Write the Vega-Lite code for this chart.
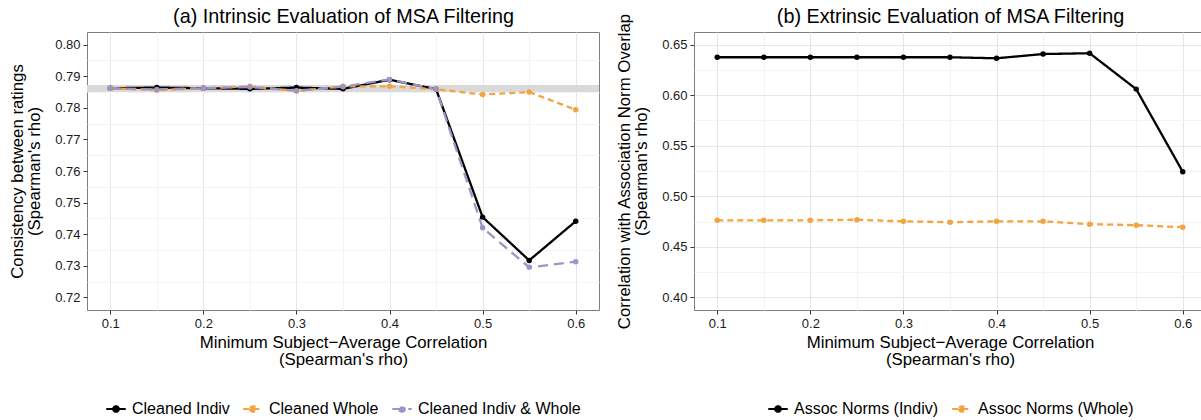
{
  "$schema": "https://vega.github.io/schema/vega-lite/v6.json",
  "padding": {"left": 9, "top": 5, "right": 0, "bottom": 0},
  "background": "white",
  "config": {
    "font": "Liberation Sans",
    "view": {"stroke": "#7f7f7f", "strokeWidth": 1},
    "axis": {
      "labelFontSize": 13, "labelColor": "#1a1a1a", "labelFlush": false, "labelPadding": 3,
      "titleFontSize": 16.8, "titleFontWeight": "normal", "titleColor": "#000000",
      "tickColor": "#333333", "tickSize": 4, "domain": false,
      "gridColor": "#e6e6e6", "gridWidth": 1
    },
    "legend": {
      "orient": "bottom", "direction": "horizontal",
      "labelFontSize": 16, "labelColor": "#000000", "labelLimit": 400,
      "symbolType": "M-1,0L1,0M-0.28,0A0.28,0.28,0,1,0,0.28,0A0.28,0.28,0,1,0,-0.28,0Z",
      "symbolSize": 380, "symbolStrokeWidth": 2.2,
      "columnPadding": 8, "labelOffset": 5, "offset": 30,
      "layout": {"bottom": {"anchor": "middle"}}
    }
  },
  "datasets": {
    "a": [
      {"threshold": 0.1, "rho": 0.7862, "series": "Cleaned Indiv"},
      {"threshold": 0.15, "rho": 0.7864, "series": "Cleaned Indiv"},
      {"threshold": 0.2, "rho": 0.7862, "series": "Cleaned Indiv"},
      {"threshold": 0.25, "rho": 0.7860, "series": "Cleaned Indiv"},
      {"threshold": 0.3, "rho": 0.7864, "series": "Cleaned Indiv"},
      {"threshold": 0.35, "rho": 0.7860, "series": "Cleaned Indiv"},
      {"threshold": 0.4, "rho": 0.7889, "series": "Cleaned Indiv"},
      {"threshold": 0.45, "rho": 0.7859, "series": "Cleaned Indiv"},
      {"threshold": 0.5, "rho": 0.7454, "series": "Cleaned Indiv"},
      {"threshold": 0.55, "rho": 0.7317, "series": "Cleaned Indiv"},
      {"threshold": 0.6, "rho": 0.7441, "series": "Cleaned Indiv"},
      {"threshold": 0.1, "rho": 0.7862, "series": "Cleaned Whole"},
      {"threshold": 0.15, "rho": 0.7856, "series": "Cleaned Whole"},
      {"threshold": 0.2, "rho": 0.7862, "series": "Cleaned Whole"},
      {"threshold": 0.25, "rho": 0.7868, "series": "Cleaned Whole"},
      {"threshold": 0.3, "rho": 0.7853, "series": "Cleaned Whole"},
      {"threshold": 0.35, "rho": 0.7868, "series": "Cleaned Whole"},
      {"threshold": 0.4, "rho": 0.7868, "series": "Cleaned Whole"},
      {"threshold": 0.45, "rho": 0.7859, "series": "Cleaned Whole"},
      {"threshold": 0.5, "rho": 0.7842, "series": "Cleaned Whole"},
      {"threshold": 0.55, "rho": 0.7850, "series": "Cleaned Whole"},
      {"threshold": 0.6, "rho": 0.7794, "series": "Cleaned Whole"},
      {"threshold": 0.1, "rho": 0.7862, "series": "Cleaned Indiv & Whole"},
      {"threshold": 0.15, "rho": 0.7858, "series": "Cleaned Indiv & Whole"},
      {"threshold": 0.2, "rho": 0.7862, "series": "Cleaned Indiv & Whole"},
      {"threshold": 0.25, "rho": 0.7866, "series": "Cleaned Indiv & Whole"},
      {"threshold": 0.3, "rho": 0.7854, "series": "Cleaned Indiv & Whole"},
      {"threshold": 0.35, "rho": 0.7867, "series": "Cleaned Indiv & Whole"},
      {"threshold": 0.4, "rho": 0.7890, "series": "Cleaned Indiv & Whole"},
      {"threshold": 0.45, "rho": 0.7859, "series": "Cleaned Indiv & Whole"},
      {"threshold": 0.5, "rho": 0.7420, "series": "Cleaned Indiv & Whole"},
      {"threshold": 0.55, "rho": 0.7295, "series": "Cleaned Indiv & Whole"},
      {"threshold": 0.6, "rho": 0.7313, "series": "Cleaned Indiv & Whole"}
    ],
    "b": [
      {"threshold": 0.1, "rho": 0.6375, "series": "Assoc Norms (Indiv)"},
      {"threshold": 0.15, "rho": 0.6375, "series": "Assoc Norms (Indiv)"},
      {"threshold": 0.2, "rho": 0.6375, "series": "Assoc Norms (Indiv)"},
      {"threshold": 0.25, "rho": 0.6375, "series": "Assoc Norms (Indiv)"},
      {"threshold": 0.3, "rho": 0.6375, "series": "Assoc Norms (Indiv)"},
      {"threshold": 0.35, "rho": 0.6375, "series": "Assoc Norms (Indiv)"},
      {"threshold": 0.4, "rho": 0.6365, "series": "Assoc Norms (Indiv)"},
      {"threshold": 0.45, "rho": 0.6407, "series": "Assoc Norms (Indiv)"},
      {"threshold": 0.5, "rho": 0.6415, "series": "Assoc Norms (Indiv)"},
      {"threshold": 0.55, "rho": 0.6060, "series": "Assoc Norms (Indiv)"},
      {"threshold": 0.6, "rho": 0.5243, "series": "Assoc Norms (Indiv)"},
      {"threshold": 0.1, "rho": 0.4762, "series": "Assoc Norms (Whole)"},
      {"threshold": 0.15, "rho": 0.4762, "series": "Assoc Norms (Whole)"},
      {"threshold": 0.2, "rho": 0.4762, "series": "Assoc Norms (Whole)"},
      {"threshold": 0.25, "rho": 0.4768, "series": "Assoc Norms (Whole)"},
      {"threshold": 0.3, "rho": 0.4752, "series": "Assoc Norms (Whole)"},
      {"threshold": 0.35, "rho": 0.4744, "series": "Assoc Norms (Whole)"},
      {"threshold": 0.4, "rho": 0.4752, "series": "Assoc Norms (Whole)"},
      {"threshold": 0.45, "rho": 0.4752, "series": "Assoc Norms (Whole)"},
      {"threshold": 0.5, "rho": 0.4724, "series": "Assoc Norms (Whole)"},
      {"threshold": 0.55, "rho": 0.4714, "series": "Assoc Norms (Whole)"},
      {"threshold": 0.6, "rho": 0.4694, "series": "Assoc Norms (Whole)"}
    ]
  },
  "spacing": 13,
  "resolve": {"scale": {"color": "independent", "strokeDash": "independent"}},
  "hconcat": [
    {
      "width": 512, "height": 278,
      "data": {"name": "a"},
      "resolve": {"axis": {"x": "independent", "y": "independent"}},
      "layer": [
        {
          "mark": {"type": "rule", "color": "#d9d9d9", "strokeWidth": 6},
          "encoding": {"y": {"datum": 0.7862, "type": "quantitative", "scale": {"domain": [0.716, 0.804], "nice": false, "zero": false}, "axis": null}}
        },
        {
          "mark": {"type": "line", "strokeWidth": 2.3},
          "encoding": {
            "x": {"field": "threshold", "type": "quantitative", "scale": {"domain": [0.075, 0.625], "nice": false, "zero": false},
                  "axis": {"orient": "bottom", "values": [0.1, 0.2, 0.3, 0.4, 0.5, 0.6], "format": ".1f", "title": ["Minimum Subject−Average Correlation", "(Spearman's rho)"], "titleLineHeight": 17, "titlePadding": 4}},
            "y": {"field": "rho", "type": "quantitative", "scale": {"domain": [0.716, 0.804], "nice": false, "zero": false},
                  "axis": {"orient": "left", "values": [0.72, 0.73, 0.74, 0.75, 0.76, 0.77, 0.78, 0.79, 0.8], "format": ".2f", "title": ["Consistency between ratings", "(Spearman's rho)"], "titleLineHeight": 17, "titlePadding": 11}},
            "color": {"field": "series", "type": "nominal",
                      "scale": {"domain": ["Cleaned Indiv", "Cleaned Whole", "Cleaned Indiv & Whole"], "range": ["#000000", "#F4A340", "#9C95C8"]},
                      "legend": {"title": null, "encode": {"symbols": {"update": {"fill": {"signal": "datum.value === 'Cleaned Whole' ? '#F4A340' : datum.value === 'Cleaned Indiv & Whole' ? '#9C95C8' : '#000000'"}}}}}},
            "strokeDash": {"field": "series", "type": "nominal",
                      "scale": {"domain": ["Cleaned Indiv", "Cleaned Whole", "Cleaned Indiv & Whole"], "range": [[1, 0], [6, 4], [10, 6]]},
                      "legend": {"title": null, "encode": {"symbols": {"update": {"fill": {"signal": "datum.value === 'Cleaned Whole' ? '#F4A340' : datum.value === 'Cleaned Indiv & Whole' ? '#9C95C8' : '#000000'"}}}}}}
          }
        },
        {
          "mark": {"type": "point", "filled": true, "size": 30, "opacity": 1},
          "encoding": {
            "x": {"field": "threshold", "type": "quantitative", "scale": {"domain": [0.075, 0.625], "nice": false, "zero": false},
                  "axis": {"orient": "top", "values": [0.15, 0.25, 0.35, 0.45, 0.55], "grid": true, "gridColor": "#f3f3f3", "labels": false, "ticks": false, "domain": false,
                           "title": "(a) Intrinsic Evaluation of MSA Filtering", "titleFontSize": 19.8, "titlePadding": 6}},
            "y": {"field": "rho", "type": "quantitative", "scale": {"domain": [0.716, 0.804], "nice": false, "zero": false},
                  "axis": {"orient": "right", "values": [0.725, 0.735, 0.745, 0.755, 0.765, 0.775, 0.785, 0.795], "grid": true, "gridColor": "#f3f3f3", "labels": false, "ticks": false, "domain": false, "title": null}},
            "color": {"field": "series", "type": "nominal", "legend": null,
                      "scale": {"domain": ["Cleaned Indiv", "Cleaned Whole", "Cleaned Indiv & Whole"], "range": ["#000000", "#F4A340", "#9C95C8"]}}
          }
        }
      ]
    },
    {
      "width": 512, "height": 278,
      "data": {"name": "b"},
      "resolve": {"axis": {"x": "independent", "y": "independent"}},
      "layer": [
        {
          "mark": {"type": "line", "strokeWidth": 2.3},
          "encoding": {
            "x": {"field": "threshold", "type": "quantitative", "scale": {"domain": [0.075, 0.625], "nice": false, "zero": false},
                  "axis": {"orient": "bottom", "values": [0.1, 0.2, 0.3, 0.4, 0.5, 0.6], "format": ".1f", "title": ["Minimum Subject−Average Correlation", "(Spearman's rho)"], "titleLineHeight": 17, "titlePadding": 4}},
            "y": {"field": "rho", "type": "quantitative", "scale": {"domain": [0.3875, 0.6625], "nice": false, "zero": false},
                  "axis": {"orient": "left", "values": [0.4, 0.45, 0.5, 0.55, 0.6, 0.65], "format": ".2f", "title": ["Correlation with Association Norm Overlap", "(Spearman's rho)"], "titleLineHeight": 17, "titlePadding": 11}},
            "color": {"field": "series", "type": "nominal",
                      "scale": {"domain": ["Assoc Norms (Indiv)", "Assoc Norms (Whole)"], "range": ["#000000", "#F4A340"]},
                      "legend": {"title": null, "encode": {"symbols": {"update": {"fill": {"signal": "datum.value === 'Assoc Norms (Whole)' ? '#F4A340' : '#000000'"}}}}}},
            "strokeDash": {"field": "series", "type": "nominal",
                      "scale": {"domain": ["Assoc Norms (Indiv)", "Assoc Norms (Whole)"], "range": [[1, 0], [6, 4]]},
                      "legend": {"title": null, "encode": {"symbols": {"update": {"fill": {"signal": "datum.value === 'Assoc Norms (Whole)' ? '#F4A340' : '#000000'"}}}}}}
          }
        },
        {
          "mark": {"type": "point", "filled": true, "size": 30, "opacity": 1},
          "encoding": {
            "x": {"field": "threshold", "type": "quantitative", "scale": {"domain": [0.075, 0.625], "nice": false, "zero": false},
                  "axis": {"orient": "top", "values": [0.15, 0.25, 0.35, 0.45, 0.55], "grid": true, "gridColor": "#f3f3f3", "labels": false, "ticks": false, "domain": false,
                           "title": "(b) Extrinsic Evaluation of MSA Filtering", "titleFontSize": 19.8, "titlePadding": 6}},
            "y": {"field": "rho", "type": "quantitative", "scale": {"domain": [0.3875, 0.6625], "nice": false, "zero": false},
                  "axis": {"orient": "right", "values": [0.425, 0.475, 0.525, 0.575, 0.625], "grid": true, "gridColor": "#f3f3f3", "labels": false, "ticks": false, "domain": false, "title": null}},
            "color": {"field": "series", "type": "nominal", "legend": null,
                      "scale": {"domain": ["Assoc Norms (Indiv)", "Assoc Norms (Whole)"], "range": ["#000000", "#F4A340"]}}
          }
        }
      ]
    }
  ]
}
